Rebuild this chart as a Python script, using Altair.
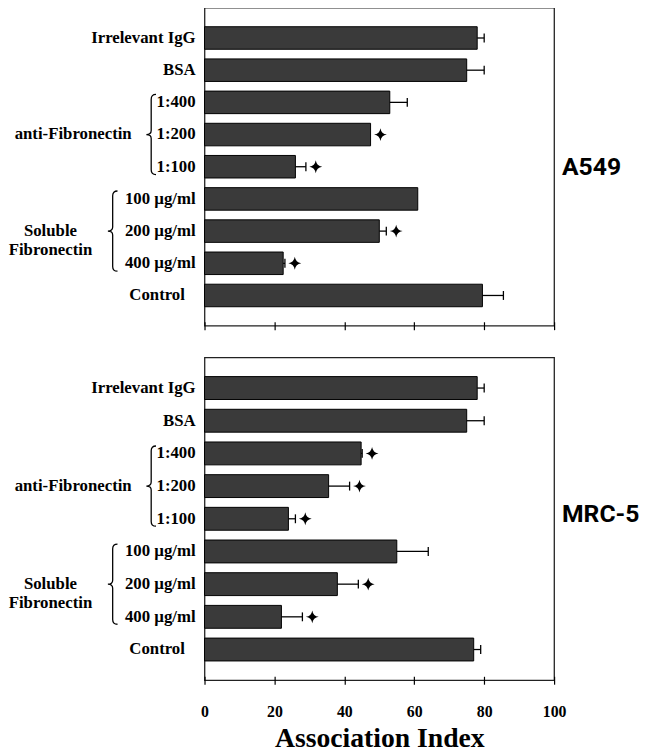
import altair as alt
import pandas as pd

categories = ["Irrelevant IgG", "BSA", "1:400", "1:200", "1:100",
              "100 µg/ml", "200 µg/ml", "400 µg/ml", "Control"]

a549_values = [78, 75, 53, 47.5, 26, 61, 50, 22.5, 79.5]
a549_errors = [2, 5, 5, 0, 3, 0, 2, 0.5, 6]
a549_sig = [0, 0, 0, 1, 1, 0, 1, 1, 0]

mrc5_values = [78, 75, 44.8, 35.5, 24, 55, 38, 22, 77]
mrc5_errors = [2, 5, 0.3, 6, 2, 9, 6, 6, 2]
mrc5_sig = [0, 0, 1, 1, 1, 0, 1, 1, 0]

group_labels = ["anti-Fibronectin", "Soluble\nFibronectin"]
group_rows = ["1:200", "200 µg/ml"]

x_ticks = [0, 20, 40, 60, 80, 100]

PLOT_W = 354
FONT = "Liberation Serif"

BRACE = "M0.12,-1 Q0,-1 0,-0.88 L0,-0.1 Q0,0 -0.12,0 Q0,0 0,0.1 L0,0.88 Q0,1 0.12,1"
STAR = "M0,-1 Q0.13,-0.13 1,0 Q0.13,0.13 0,1 Q-0.13,0.13 -1,0 Q-0.13,-0.13 0,-1 Z"

yscale = alt.Scale(domain=categories, paddingInner=0.3, paddingOuter=0.59)
xscale = alt.Scale(domain=[0, 100], nice=False)


def Y(field):
    return alt.Y(f"{field}:N", scale=yscale, axis=None)


def panel(name, values, errors, sig, bottom, height, name_dy):
    df = pd.DataFrame({"category": categories, "value": values,
                       "error": errors, "sig": sig})
    df["end"] = df["value"] + df["error"]
    gdf = pd.DataFrame({"group": group_labels, "row": group_rows})
    ndf = pd.DataFrame({"name": [name], "row": ["1:100"]})

    if bottom:
        xaxis = alt.Axis(values=x_ticks, tickSize=8, offset=-4, domain=False,
                         grid=False, labelPadding=20, labelFlush=False,
                         title="Association Index", titlePadding=5)
    else:
        xaxis = alt.Axis(values=x_ticks, tickSize=8, offset=-4, domain=False,
                         grid=False, labels=False, title=None)

    base = alt.Chart(df)
    bars = base.mark_bar(color="#3a3a3a", stroke="black", strokeWidth=1).encode(
        x=alt.X("value:Q", scale=xscale, axis=xaxis), y=Y("category"))
    errs = base.transform_filter("datum.error > 0").mark_rule(
        color="black", strokeWidth=1.3).encode(
        x=alt.X("value:Q", scale=xscale), x2="end:Q", y=Y("category"))
    caps = base.transform_filter("datum.error > 0").mark_tick(
        color="black", thickness=1.3, size=9, opacity=1).encode(
        x=alt.X("end:Q", scale=xscale), y=Y("category"))
    stars = base.transform_filter("datum.sig == 1").mark_point(
        shape=STAR, filled=True, color="black", size=169, opacity=1,
        xOffset=10).encode(x=alt.X("end:Q", scale=xscale), y=Y("category"))

    txt = dict(font=FONT, fontWeight="bold", fontSize=17, color="black",
               baseline="middle")
    row_labels = base.transform_filter("datum.category != 'Control'").mark_text(
        align="right", **txt).encode(x=alt.value(-9), y=Y("category"),
                                     text="category:N")
    ctrl_label = base.transform_filter("datum.category == 'Control'").mark_text(
        align="center", **txt).encode(x=alt.value(-48), y=Y("category"),
                                      text="category:N")

    g = alt.Chart(gdf)
    g1 = g.transform_filter(alt.datum.row == group_rows[0]).mark_text(
        align="center", **txt).encode(x=alt.value(-133), y=Y("row"), text="group:N")
    g2 = g.transform_filter(alt.datum.row == group_rows[1]).mark_text(
        align="center", lineBreak="\n", lineHeight=19, **txt).encode(
        x=alt.value(-156), y=Y("row"), text="group:N")
    b1 = g.transform_filter(alt.datum.row == group_rows[0]).mark_point(
        shape=BRACE, filled=False, stroke="black", strokeWidth=1.3,
        size=6600, opacity=1).encode(x=alt.value(-54), y=Y("row"))
    b2 = g.transform_filter(alt.datum.row == group_rows[1]).mark_point(
        shape=BRACE, filled=False, stroke="black", strokeWidth=1.3,
        size=6600, opacity=1).encode(x=alt.value(-93), y=Y("row"))

    nm = alt.Chart(ndf).mark_text(
        align="left", baseline="middle", font="Roboto", fontWeight="bold",
        fontSize=25, color="black", dy=name_dy).encode(
        x=alt.value(PLOT_W + 8), y=Y("row"), text="name:N")

    return alt.layer(bars, errs, caps, stars, row_labels, ctrl_label,
                     g1, g2, b1, b2, nm).properties(width=PLOT_W, height=height)


top = panel("A549", a549_values, a549_errors, a549_sig, False, 322, 0)
bottom = panel("MRC-5", mrc5_values, mrc5_errors, mrc5_sig, True, 327, -5)

chart = alt.vconcat(top, bottom, spacing=25).properties(
    padding={"top": -6, "left": 0, "right": 0, "bottom": 0}, background="white"
).configure_view(
    stroke="#222222", strokeWidth=1.3
).configure_axis(
    labelFont=FONT, labelFontSize=16, labelFontWeight="bold", labelColor="black",
    titleFont=FONT, titleFontSize=28, titleFontWeight="bold", titleColor="black",
    tickColor="black", tickWidth=1.2
)

chart.save("out.html", embed_options={"renderer": "svg", "actions": False})
